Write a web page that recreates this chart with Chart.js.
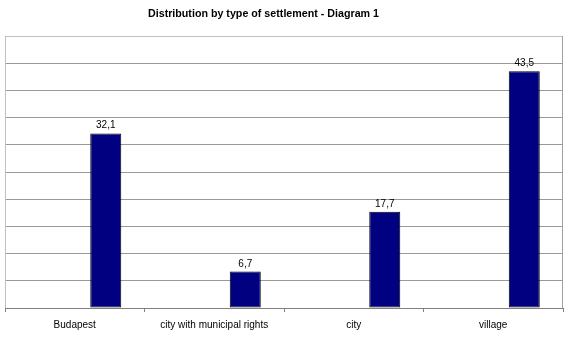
<!DOCTYPE html>
<html>
<head>
<meta charset="utf-8">
<script src="https://cdn.jsdelivr.net/npm/chart.js@4/dist/chart.umd.min.js"></script>
<style>
  html, body { margin: 0; padding: 0; background: #fff; }
  #wrap { width: 570px; height: 338px; position: relative; }
</style>
</head>
<body>
<div id="wrap"><canvas id="c" width="570" height="338"></canvas></div>
<script>
const chartTitle = 'Distribution by type of settlement - Diagram 1';
const categories = ['Budapest', 'city with municipal rights', 'city', 'village'];
const shares = [32.1, 6.7, 17.7, 43.5];
const emptySeries = [null, null, null, null];
const valueLabels = ['32,1', '6,7', '17,7', '43,5'];
const yMin = 0, yMax = 50, yStep = 5;

const framePlugin = {
  id: 'frame',
  afterDraw(chart) {
    const ctx = chart.ctx, a = chart.chartArea;
    ctx.save();
    ctx.lineWidth = 1;
    ctx.strokeStyle = '#c0c0c0';
    ctx.beginPath();
    ctx.moveTo(a.left + 0.5, a.bottom);
    ctx.lineTo(a.left + 0.5, a.top + 0.5);
    ctx.lineTo(a.right - 0.5, a.top + 0.5);
    ctx.stroke();
    ctx.strokeStyle = '#a0a0a0';
    ctx.beginPath();
    ctx.moveTo(a.right - 0.5, a.top);
    ctx.lineTo(a.right - 0.5, a.bottom);
    ctx.stroke();
    ctx.fillStyle = '#000';
    ctx.font = 'bold 10.7px Arial, "Liberation Sans", sans-serif';
    ctx.textAlign = 'center';
    ctx.textBaseline = 'middle';
    ctx.fillText(chartTitle, 263.5, 14);
    const meta = chart.getDatasetMeta(2);
    ctx.font = '10px Arial, "Liberation Sans", sans-serif';
    ctx.textBaseline = 'alphabetic';
    meta.data.forEach((bar, i) => {
      ctx.fillText(valueLabels[i], bar.x, bar.y - 5);
    });
    ctx.restore();
  }
};

new Chart(document.getElementById('c'), {
  type: 'bar',
  data: {
    labels: categories,
    datasets: [
      { data: emptySeries },
      { data: emptySeries },
      {
        data: shares,
        backgroundColor: '#000080',
        borderColor: '#000000',
        borderWidth: 1,
        borderSkipped: false
      }
    ]
  },
  options: {
    responsive: false,
    animation: false,
    devicePixelRatio: 1,
    datasets: { bar: { barPercentage: 1, categoryPercentage: 0.667 } },
    layout: { padding: { left: 5, right: 7, top: 36, bottom: 0 } },
    plugins: {
      legend: { display: false },
      title: { display: false },
      tooltip: { enabled: false }
    },
    scales: {
      x: {
        grid: {
          offset: true,
          drawOnChartArea: false,
          drawTicks: true,
          tickLength: 4,
          color: '#808080'
        },
        border: { display: true, color: '#808080', width: 1 },
        ticks: {
          color: '#000',
          font: { family: 'Arial, "Liberation Sans", sans-serif', size: 10 },
          padding: 7,
          maxRotation: 0,
          autoSkip: false
        },
        afterFit(s) { s.height = 30; }
      },
      y: {
        min: yMin,
        max: yMax,
        ticks: { display: false, stepSize: yStep },
        grid: { color: '#999999', drawTicks: false, lineWidth: 1 },
        border: { display: false },
        afterFit(s) { s.width = 0; }
      }
    }
  },
  plugins: [framePlugin]
});
</script>
</body>
</html>
